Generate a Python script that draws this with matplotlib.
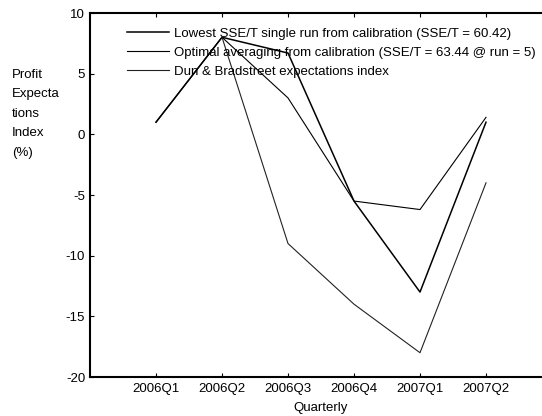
import numpy as np
import matplotlib
matplotlib.use('Agg')
import matplotlib.pyplot as plt

plt.rcParams['font.family'] = ['Liberation Sans', 'DejaVu Sans']
plt.rcParams['axes.unicode_minus'] = False

quarters = ['2006Q1', '2006Q2', '2006Q3', '2006Q4', '2007Q1', '2007Q2']
lowest_run = [1.0, 8.0, 6.7, -5.5, -13.0, 1.0]
optimal_avg = [1.0, 8.0, 3.0, -5.5, -6.2, 1.4]
dnb_index = [np.nan, 8.0, -9.0, -14.0, -18.0, -4.0]

labels = ['Lowest SSE/T single run from calibration (SSE/T = 60.42)',
          'Optimal averaging from calibration (SSE/T = 63.44 @ run = 5)',
          'Dun & Bradstreet expectations index']

fig = plt.figure(figsize=(5.42, 4.16), dpi=100)
ax = fig.add_axes([90 / 542, 39 / 416, 462 / 542, 364 / 416])

x = np.arange(1, len(quarters) + 1)
ax.plot(x, lowest_run, color='black', lw=1.1, label=labels[0])
ax.plot(x, optimal_avg, color='black', lw=0.8, label=labels[1])
ax.plot(x, dnb_index, color='#222222', lw=0.8, label=labels[2])

ax.set_xlim(0, 7)
ax.set_ylim(-20, 10)
ax.set_xticks(x)
ax.set_xticklabels(quarters)
ax.set_yticks([-20, -15, -10, -5, 0, 5, 10])
ax.tick_params(direction='in', length=3, width=0.8, labelsize=9.5, top=True)
ax.tick_params(axis='x', pad=4)
for s in ['left', 'bottom', 'top']:
    ax.spines[s].set_linewidth(1.5)
ax.spines['right'].set_visible(False)

ax.set_xlabel('Quarterly', fontsize=9.5, labelpad=5)
fig.text(12 / 542, 1 - 69 / 416, 'Profit\nExpecta\ntions\nIndex\n(%)', fontsize=9.5,
         ha='left', va='top', linespacing=1.82)

ax.legend(loc='upper left', bbox_to_anchor=(0.06, 0.985), frameon=False, fontsize=9.5,
          handlelength=3.2, handletextpad=0.4, labelspacing=0.5, borderpad=0.2)

fig.savefig('out.png', dpi=100)
